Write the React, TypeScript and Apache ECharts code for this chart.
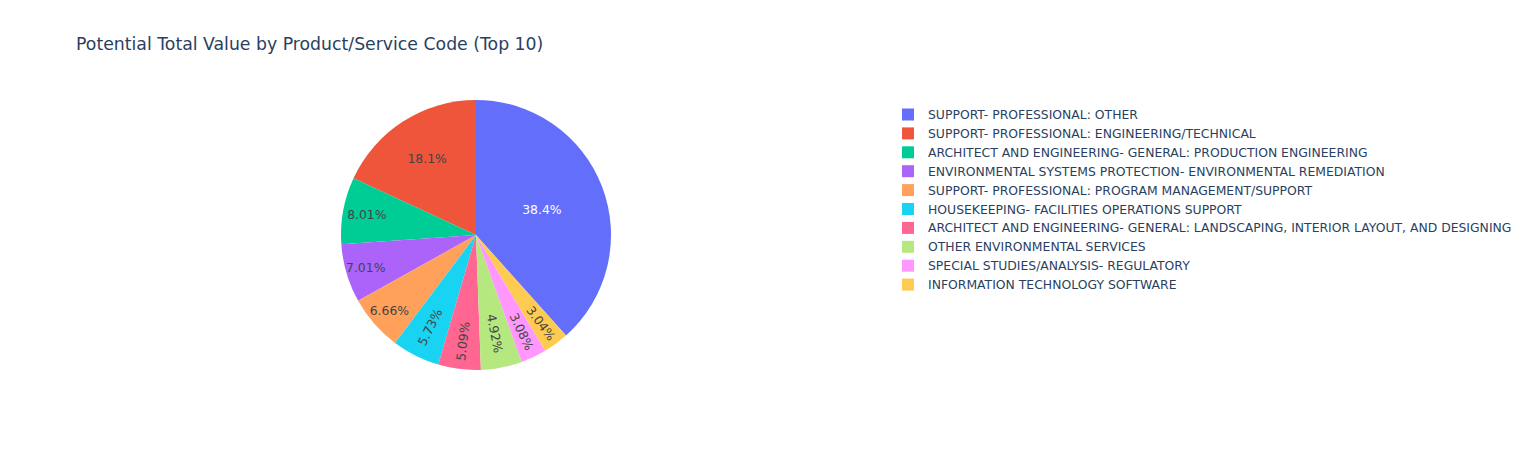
import React, { useEffect, useRef } from "react";
import * as echarts from "echarts";

const categories: string[] = [
  "SUPPORT- PROFESSIONAL: OTHER",
  "SUPPORT- PROFESSIONAL: ENGINEERING/TECHNICAL",
  "ARCHITECT AND ENGINEERING- GENERAL: PRODUCTION ENGINEERING",
  "ENVIRONMENTAL SYSTEMS PROTECTION- ENVIRONMENTAL REMEDIATION",
  "SUPPORT- PROFESSIONAL: PROGRAM MANAGEMENT/SUPPORT",
  "HOUSEKEEPING- FACILITIES OPERATIONS SUPPORT",
  "ARCHITECT AND ENGINEERING- GENERAL: LANDSCAPING, INTERIOR LAYOUT, AND DESIGNING",
  "OTHER ENVIRONMENTAL SERVICES",
  "SPECIAL STUDIES/ANALYSIS- REGULATORY",
  "INFORMATION TECHNOLOGY SOFTWARE",
];

const sharePercent: number[] = [38.4, 18.1, 8.01, 7.01, 6.66, 5.73, 5.09, 4.92, 3.08, 3.04];

const colors: string[] = [
  "#636efa", "#EF553B", "#00cc96", "#ab63fa", "#FFA15A",
  "#19d3f3", "#FF6692", "#B6E880", "#FF97FF", "#FECB52",
];

// label placement (style): fraction of radius, rotation mode, text colour
const labelRadiusFrac: number[] = [0.5, 0.65, 0.8, 0.83, 0.83, 0.74, 0.77, 0.72, 0.77, 0.79];
const labelRotate: (number | string)[] = [0, 0, 0, 0, 0, "radial", "radial", "radial", "radial", "radial"];
const labelColor: string[] = ["#ffffff", "#444", "#444", "#444", "#444", "#444", "#444", "#444", "#444", "#444"];

const FONT = "'DejaVu Sans', verdana, arial, sans-serif";

export default function App() {
  const ref = useRef<HTMLDivElement>(null);
  useEffect(() => {
    if (!ref.current) return;
    const chart = echarts.init(ref.current, undefined, { renderer: "svg" });
    const total = sharePercent.reduce((a, b) => a + b, 0);
    const startAngle = 90 - (360 * sharePercent[0]) / total;
    const center = [476, 235];
    const R = 135;
    const baseData = categories.map((name, i) => ({
      name,
      value: sharePercent[i],
      itemStyle: { color: colors[i] },
    }));
    const labelSeries = categories.map((_, i) => {
      const rr = labelRadiusFrac[i] * R;
      return {
        type: "pie",
        silent: true,
        legendHoverLink: false,
        center,
        radius: [rr - 1, rr + 1],
        startAngle,
        clockwise: false,
        avoidLabelOverlap: false,
        itemStyle: { color: "rgba(0,0,0,0)", borderWidth: 0 },
        emphasis: { disabled: true },
        label: { show: false },
        labelLine: { show: false },
        tooltip: { show: false },
        data: categories.map((name, j) => ({
          name,
          value: sharePercent[j],
          itemStyle: { color: "rgba(0,0,0,0)" },
          label: {
            show: j === i,
            position: "inside",
            rotate: labelRotate[i],
            formatter: `${sharePercent[j]}%`,
            color: labelColor[i],
            fontSize: 12.4,
            fontFamily: FONT,
          },
        })),
      };
    });
    chart.setOption({
      animation: false,
      backgroundColor: "#ffffff",
      title: {
        text: "Potential Total Value by Product/Service Code (Top 10)",
        left: 76,
        top: 35,
        padding: 0,
        textStyle: { color: "#2a3f5f", fontSize: 17.3, fontWeight: "normal", fontFamily: FONT },
      },
      legend: {
        orient: "vertical",
        left: 902,
        top: 108.5,
        padding: 0,
        itemWidth: 12,
        itemHeight: 12,
        itemGap: 6.9,
        icon: "rect",
        data: categories,
        textStyle: {
          color: "#2a3f5f",
          fontSize: 12.4,
          fontFamily: FONT,
          lineHeight: 12,
          padding: [0, 0, 0, 9],
        },
      },
      series: [
        {
          type: "pie",
          center,
          radius: [0, R],
          startAngle,
          clockwise: false,
          avoidLabelOverlap: false,
          itemStyle: { borderWidth: 0 },
          emphasis: { disabled: true },
          label: { show: false },
          labelLine: { show: false },
          data: baseData,
        },
        ...labelSeries,
      ],
    });
    return () => chart.dispose();
  }, []);
  return (
    <div
      ref={ref}
      style={{ position: "fixed", left: 0, top: 0, width: 1532, height: 450 }}
    />
  );
}
